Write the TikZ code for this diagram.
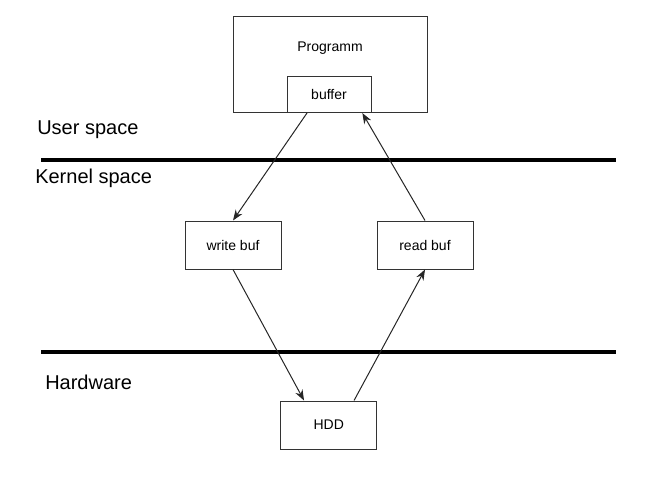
\documentclass[tikz,border=0pt]{standalone}
\usepackage{fontspec}
\setmainfont{Liberation Sans}
\usetikzlibrary{arrows.meta}
\begin{document}
\begin{tikzpicture}
        [x=0.75pt, y=-0.75pt,
        box/.style={rectangle, draw=black!80, line width=0.75pt, fill=white, minimum width=72pt, minimum height=36pt, font=\fontsize{10.5}{12}\selectfont},
        edge/.style={line width=0.75pt, black!85, -{Stealth[length=8pt, width=6pt]}},
        layer/.style={line width=3pt, black},
        space/.style={anchor=west, inner sep=0pt, font=\fontsize{15}{18}\selectfont},
        inner sep=0pt]

        \useasboundingbox (0,0) rectangle (647,483);

        \draw[layer] (41,160) -- (616,160);
        \draw[layer] (41,352) -- (616,352);

        \node[space] (user) at (37,130) {User space};
        \node[space] (kernel) at (35,178) {Kernel space};
        \node[space] (hw) at (45,382) {Hardware};

        \node[box, minimum width=145.5pt, minimum height=72pt] (prog) at (330,64.5) {};
        \node[font=\fontsize{10.5}{12}\selectfont] (progtext) at (330,48) {Programm};
        \node[box, minimum width=63pt, minimum height=27pt] (buffer) at (329,94.5) {buffer};
        \node[box] (write) at (233,245) {write buf};
        \node[box] (read) at (425,245) {read buf};
        \node[box] (hdd) at (328.7,425) {HDD};

        \draw[edge] ([xshift=-16.5pt]buffer.south) -- (write.north);
        \draw[edge] (write.south) -- ([xshift=-18.5pt]hdd.north);
        \draw[edge] ([xshift=19pt]hdd.north) -- (read.south);
        \draw[edge] (read.north) -- ([xshift=25pt]buffer.south);

    \end{tikzpicture}
\end{document}
